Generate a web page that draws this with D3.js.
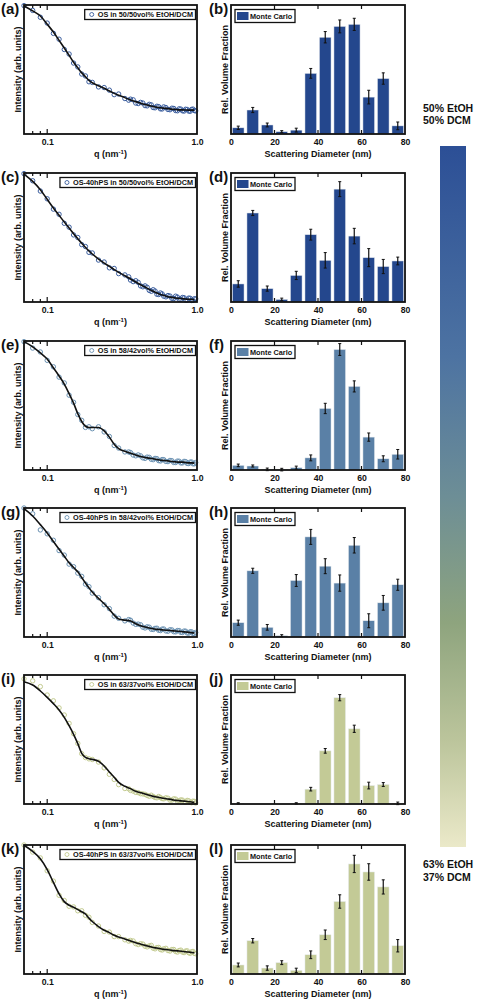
<!DOCTYPE html>
<html><head><meta charset="utf-8">
<script src="https://cdn.jsdelivr.net/npm/d3@7"></script>
<style>
body{margin:0;background:#fff}
text{font-family:"Liberation Sans",Arial,sans-serif;font-weight:bold;fill:#111}
</style>
</head><body>
<svg id="chart" width="484" height="1000"></svg>
<script>
// ---------- data ----------
const qGrid=[0.07,0.08,0.09,0.10,0.11,0.12,0.13,0.14,0.15,0.16,0.17,0.18,0.19,0.20,0.22,0.24,0.26,0.28,0.30,0.33,0.36,0.39,0.42,0.45,0.48,0.51,0.54,0.57,0.60,0.64,0.68,0.72,0.76,0.80,0.84,0.88,0.92,0.96];
const qHigh=[0.35,0.375,0.405,0.435,0.465,0.495,0.525,0.555,0.585,0.62,0.66,0.70,0.74,0.78,0.82,0.86,0.90,0.94,0.98];

const fitA=[0.992,0.954,0.915,0.851,0.790,0.726,0.667,0.610,0.556,0.513,0.474,0.444,0.415,0.397,0.374,0.354,0.333,0.315,0.300,0.282,0.264,0.251,0.238,0.228,0.221,0.213,0.208,0.203,0.200,0.197,0.192,0.190,0.187,0.187,0.186,0.185,0.185,0.185];
const dataA=[0.995,0.958,0.905,0.86,0.78,0.735,0.655,0.62,0.55,0.52,0.465,0.45,0.405,0.40,0.365,0.36,0.34,0.305,0.31,0.275,0.27,0.24,0.245,0.22,0.23,0.205,0.215,0.195,0.21,0.19,0.2,0.182,0.195,0.18,0.192,0.178,0.19,0.182];
const highA=[0.262,0.265,0.236,0.24,0.218,0.226,0.203,0.212,0.194,0.205,0.188,0.198,0.18,0.193,0.178,0.19,0.176,0.193,0.179];
const fitC=[0.992,0.935,0.871,0.796,0.729,0.672,0.620,0.574,0.530,0.491,0.455,0.424,0.395,0.372,0.333,0.302,0.276,0.251,0.230,0.204,0.178,0.155,0.134,0.116,0.098,0.083,0.070,0.059,0.052,0.041,0.036,0.031,0.028,0.026,0.023,0.021,0.021,0.018];
const dataC=[0.995,0.94,0.86,0.8,0.72,0.68,0.61,0.58,0.52,0.5,0.445,0.43,0.385,0.38,0.325,0.31,0.265,0.26,0.22,0.21,0.17,0.165,0.125,0.125,0.09,0.095,0.06,0.07,0.045,0.05,0.028,0.045,0.02,0.035,0.015,0.03,0.012,0.025];
const highC=[0.195,0.158,0.152,0.118,0.114,0.083,0.085,0.058,0.063,0.04,0.046,0.027,0.038,0.02,0.033,0.015,0.029,0.012,0.024];
const fitE=[0.995,0.955,0.908,0.860,0.792,0.729,0.666,0.592,0.518,0.437,0.376,0.339,0.329,0.329,0.329,0.303,0.255,0.200,0.166,0.145,0.129,0.116,0.105,0.097,0.092,0.087,0.082,0.076,0.074,0.071,0.066,0.063,0.061,0.061,0.058,0.055,0.055,0.053];
const dataE=[0.995,0.945,0.915,0.85,0.8,0.72,0.675,0.58,0.525,0.43,0.385,0.33,0.335,0.32,0.335,0.295,0.26,0.19,0.17,0.14,0.135,0.11,0.11,0.09,0.098,0.08,0.088,0.07,0.08,0.065,0.072,0.058,0.068,0.055,0.065,0.05,0.062,0.048];
const highE=[0.14,0.116,0.117,0.094,0.1,0.083,0.09,0.073,0.081,0.066,0.074,0.058,0.069,0.055,0.067,0.051,0.061,0.048,0.058];
const fitG=[0.995,0.938,0.871,0.807,0.740,0.680,0.626,0.575,0.539,0.505,0.461,0.418,0.381,0.348,0.299,0.258,0.214,0.170,0.139,0.131,0.124,0.103,0.088,0.077,0.070,0.064,0.059,0.057,0.054,0.052,0.049,0.046,0.044,0.041,0.039,0.036,0.034,0.031];
const dataG=[1.0,0.955,0.83,0.8,0.75,0.67,0.635,0.565,0.545,0.495,0.47,0.41,0.39,0.34,0.305,0.25,0.22,0.162,0.145,0.125,0.13,0.098,0.095,0.07,0.076,0.058,0.068,0.05,0.062,0.045,0.055,0.04,0.05,0.035,0.045,0.03,0.04,0.028];
const highG=[0.135,0.108,0.1,0.076,0.079,0.06,0.067,0.052,0.061,0.047,0.056,0.041,0.05,0.036,0.046,0.031,0.04,0.027,0.035];
const fitI=[0.948,0.922,0.876,0.827,0.778,0.729,0.672,0.607,0.540,0.468,0.393,0.362,0.351,0.346,0.331,0.295,0.248,0.207,0.168,0.137,0.119,0.098,0.088,0.078,0.067,0.059,0.054,0.049,0.044,0.039,0.034,0.028,0.026,0.023,0.021,0.018,0.016,0.013];
const dataI=[0.97,0.955,0.91,0.845,0.8,0.745,0.69,0.625,0.545,0.47,0.39,0.36,0.35,0.345,0.325,0.28,0.23,0.19,0.15,0.12,0.105,0.09,0.08,0.075,0.06,0.058,0.048,0.05,0.04,0.045,0.03,0.038,0.025,0.03,0.015,0.025,0.01,0.02];
const highI=[0.118,0.1,0.088,0.078,0.066,0.068,0.05,0.058,0.042,0.048,0.03,0.04,0.022,0.032,0.016,0.028,0.012,0.022,0.008];
const fitK=[0.998,0.950,0.893,0.809,0.710,0.621,0.561,0.533,0.517,0.499,0.483,0.465,0.433,0.407,0.368,0.339,0.321,0.300,0.287,0.272,0.256,0.243,0.232,0.222,0.214,0.206,0.201,0.196,0.191,0.188,0.183,0.180,0.178,0.175,0.172,0.170,0.167,0.164];
const dataK=[1.0,0.945,0.9,0.8,0.72,0.61,0.57,0.525,0.52,0.49,0.49,0.455,0.44,0.4,0.372,0.33,0.325,0.29,0.29,0.265,0.26,0.235,0.235,0.215,0.218,0.2,0.205,0.19,0.195,0.182,0.19,0.175,0.182,0.17,0.178,0.165,0.172,0.16];
const highK=[0.255,0.256,0.228,0.232,0.21,0.222,0.195,0.206,0.186,0.199,0.178,0.19,0.17,0.185,0.166,0.18,0.16,0.175,0.157];

const binCenters=[3.33,10,16.67,23.33,30,36.67,43.33,50,56.67,63.33,70,76.67];
const volB=[0.048,0.186,0.07,0.018,0.03,0.47,0.75,0.834,0.85,0.286,0.43,0.063];
const errB=[0.013,0.02,0.015,0.008,0.015,0.038,0.044,0.05,0.047,0.053,0.044,0.03];
const volD=[0.14,0.69,0.104,0.02,0.206,0.522,0.323,0.875,0.511,0.344,0.275,0.318];
const errD=[0.025,0.02,0.02,0.01,0.032,0.042,0.06,0.058,0.06,0.07,0.055,0.03];
const volF=[0.036,0.031,0.005,0.003,0.018,0.094,0.477,0.934,0.648,0.255,0.087,0.122];
const errF=[0.01,0.008,0.01,0.01,0.012,0.023,0.04,0.046,0.043,0.032,0.023,0.037];
const volH=[0.111,0.513,0.075,0.01,0.438,0.776,0.549,0.418,0.711,0.126,0.265,0.405];
const errH=[0.02,0.02,0.022,0.008,0.046,0.058,0.058,0.063,0.06,0.054,0.057,0.043];
const volJ=[0.005,0,0,0,0.005,0.115,0.412,0.824,0.583,0.143,0.151,0.005];
const errJ=[0.005,0,0,0,0.005,0.014,0.018,0.024,0.028,0.026,0.015,0.01];
const volL=[0.07,0.258,0.046,0.088,0.028,0.149,0.304,0.562,0.853,0.791,0.675,0.219];
const errL=[0.015,0.017,0.017,0.015,0.017,0.03,0.037,0.052,0.067,0.064,0.055,0.048];

const leftLetters=["(a)","(c)","(e)","(g)","(i)","(k)"];
const rightLetters=["(b)","(d)","(f)","(h)","(j)","(l)"];
const legendLabels=["OS in 50/50vol% EtOH/DCM","OS-40hPS in 50/50vol% EtOH/DCM","OS in 58/42vol% EtOH/DCM","OS-40hPS in 58/42vol% EtOH/DCM","OS in 63/37vol% EtOH/DCM","OS-40hPS in 63/37vol% EtOH/DCM"];
const barLegend="Monte Carlo";
const qTickValues=[0.1,1.0];
const qMinorTicks=[0.08,0.09];
const dTickValues=[0,20,40,60,80];
const colorTopLabel=["50% EtOH","50% DCM"];
const colorBottomLabel=["63% EtOH","37% DCM"];

const fits=[fitA,fitC,fitE,fitG,fitI,fitK];
const datas=[dataA,dataC,dataE,dataG,dataI,dataK];
const highs=[highA,highC,highE,highG,highI,highK];
const vols=[volB,volD,volF,volH,volJ,volL];
const errs=[errB,errD,errF,errH,errJ,errL];
const barColors=["#24478d","#24478d","#5a80a6","#5a80a6","#c3ca96","#c3ca96"];
const markColors=["#3a5d9e","#3a5d9e","#6a91b2","#6a91b2","#c3cb90","#c3cb90"];

// ---------- layout ----------
const svg=d3.select("#chart");
const tops=[5,173,341,508,675,845];
const H=129;
const LX=[24,197], RX=[231,405];

tops.forEach((top,i)=>{
  const bottom=top+H;
  const g=svg.append("g");
  const x=d3.scaleLog().domain([0.07,1.0]).range(LX);
  const y=d3.scaleLinear().domain([0,1]).range([bottom,top]);

  const pts=qGrid.map((q,k)=>[q,datas[i][k]]).concat(qHigh.map((q,k)=>[q,highs[i][k]]));
  g.selectAll("circle.pt").data(pts).join("circle")
    .attr("class","pt").attr("cx",d=>x(d[0])).attr("cy",d=>y(d[1])).attr("r",2.2)
    .attr("fill","none").attr("stroke",markColors[i]).attr("stroke-width",1);
  g.append("path").datum(qGrid.map((q,k)=>[q,fits[i][k]]))
    .attr("d",d3.line().x(d=>x(d[0])).y(d=>y(d[1])).curve(d3.curveMonotoneX))
    .attr("fill","none").attr("stroke","#111").attr("stroke-width",1.6);

  g.append("rect").attr("x",LX[0]).attr("y",top).attr("width",LX[1]-LX[0]).attr("height",H)
    .attr("fill","none").attr("stroke","#111").attr("stroke-width",1.8);
  const tk=[...qMinorTicks.map(v=>[v,3]),[0.1,5]];
  tk.forEach(([v,l])=>{
    g.append("line").attr("x1",x(v)).attr("x2",x(v)).attr("y1",bottom).attr("y2",bottom-l).attr("stroke","#111").attr("stroke-width",1.2);
    g.append("line").attr("x1",x(v)).attr("x2",x(v)).attr("y1",top).attr("y2",top+l).attr("stroke","#111").attr("stroke-width",1.2);
  });
  const ax=g.append("g").attr("transform",`translate(0,${bottom})`)
    .call(d3.axisBottom(x).tickValues(qTickValues).tickFormat(d=>d.toFixed(1)).tickSize(0).tickPadding(5));
  ax.select(".domain").remove();
  ax.selectAll("text").attr("font-size",8.7).attr("font-family","Liberation Sans, Arial, sans-serif").attr("font-weight","bold").attr("fill","#111");

  const xl=g.append("text").attr("x",(LX[0]+LX[1])/2).attr("y",bottom+23).attr("text-anchor","middle").attr("font-size",9);
  xl.append("tspan").text("q (nm");
  xl.append("tspan").text("-1").attr("font-size",6).attr("dy",-3.5);
  xl.append("tspan").text(")").attr("dy",3.5);

  g.append("text").attr("transform",`translate(20.5,${(top+bottom)/2}) rotate(-90)`).attr("text-anchor","middle").attr("font-size",9).text("Intensity (arb. units)");

  const lrect=g.append("rect").attr("fill","#fff").attr("stroke","#111").attr("stroke-width",1.3);
  const lt=g.append("text").attr("x",193).attr("y",top+11.8).attr("text-anchor","end").attr("font-size",7.3).text(legendLabels[i]);
  const tw=lt.node().getComputedTextLength();
  const lx0=193-tw-13;
  lrect.attr("x",lx0).attr("y",top+4.5).attr("width",195.5-lx0).attr("height",10);
  g.append("circle").attr("cx",193-tw-6).attr("cy",top+9.5).attr("r",2).attr("fill","none").attr("stroke",markColors[i]).attr("stroke-width",0.9);

  g.append("text").attr("x",1).attr("y",top+8.5).attr("font-size",15).text(leftLetters[i]);

  // ---------- bar panel ----------
  const xd=d3.scaleLinear().domain([0,80]).range(RX);
  const bw=(xd(80/12)-xd(0))*0.8;
  const gb=svg.append("g");
  gb.selectAll("rect.bar").data(binCenters.map((c,k)=>[c,vols[i][k],errs[i][k]])).join("rect")
    .attr("class","bar").attr("x",d=>xd(d[0])-bw/2).attr("y",d=>y(d[1])).attr("width",bw).attr("height",d=>bottom-y(d[1]))
    .attr("fill",barColors[i]).attr("stroke","#e8ecf0").attr("stroke-width",0.5);
  const eb=binCenters.map((c,k)=>[c,vols[i][k],errs[i][k]]).filter(d=>d[2]>0);
  eb.forEach(d=>{
    const cx=xd(d[0]);
    gb.append("line").attr("x1",cx).attr("x2",cx).attr("y1",y(d[1]-d[2])).attr("y2",y(d[1]+d[2])).attr("stroke","#111").attr("stroke-width",1.2);
    [d[1]-d[2],d[1]+d[2]].forEach(v=>gb.append("line").attr("x1",cx-1.5).attr("x2",cx+1.5).attr("y1",y(v)).attr("y2",y(v)).attr("stroke","#111").attr("stroke-width",1));
  });
  gb.append("rect").attr("x",RX[0]).attr("y",top).attr("width",RX[1]-RX[0]).attr("height",H)
    .attr("fill","none").attr("stroke","#111").attr("stroke-width",1.8);
  [20,40,60].forEach(v=>{
    gb.append("line").attr("x1",xd(v)).attr("x2",xd(v)).attr("y1",bottom).attr("y2",bottom-4).attr("stroke","#111").attr("stroke-width",1.2);
    gb.append("line").attr("x1",xd(v)).attr("x2",xd(v)).attr("y1",top).attr("y2",top+4).attr("stroke","#111").attr("stroke-width",1.2);
  });
  const axd=gb.append("g").attr("transform",`translate(0,${bottom})`)
    .call(d3.axisBottom(xd).tickValues(dTickValues).tickSize(0).tickPadding(5));
  axd.select(".domain").remove();
  axd.selectAll("text").attr("font-size",8.7).attr("font-family","Liberation Sans, Arial, sans-serif").attr("font-weight","bold").attr("fill","#111");
  gb.append("text").attr("x",(RX[0]+RX[1])/2).attr("y",bottom+23).attr("text-anchor","middle").attr("font-size",9).text("Scattering Diameter (nm)");
  gb.append("text").attr("transform",`translate(228,${(top+bottom)/2}) rotate(-90)`).attr("text-anchor","middle").attr("font-size",9).text("Rel. Volume Fraction");
  gb.append("rect").attr("x",235).attr("y",top+4.5).attr("width",60).attr("height",13).attr("fill","#fff").attr("stroke","#111").attr("stroke-width",1.3);
  gb.append("rect").attr("x",237).attr("y",top+7).attr("width",11.5).attr("height",8).attr("fill",barColors[i]);
  gb.append("text").attr("x",250).attr("y",top+13.8).attr("font-size",7.3).text(barLegend);
  gb.append("text").attr("x",209).attr("y",top+8.5).attr("font-size",15).text(rightLetters[i]);
});

// ---------- colorbar ----------
const defs=svg.append("defs");
const grad=defs.append("linearGradient").attr("id","cb").attr("x1",0).attr("x2",0).attr("y1",0).attr("y2",1);
[[0,"#2c4f96"],[0.3,"#4d73a2"],[0.5,"#6d8e96"],[0.68,"#8ea47e"],[0.85,"#bcc59c"],[1,"#ebe9c9"]]
  .forEach(([o,c])=>grad.append("stop").attr("offset",o).attr("stop-color",c));
svg.append("rect").attr("x",440).attr("y",146).attr("width",26).attr("height",701).attr("fill","url(#cb)");
colorTopLabel.forEach((t,k)=>svg.append("text").attr("x",423).attr("y",112+k*11.5).attr("font-size",10.5).text(t));
colorBottomLabel.forEach((t,k)=>svg.append("text").attr("x",423).attr("y",868+k*12.5).attr("font-size",10.5).text(t));
</script>
</body></html>
